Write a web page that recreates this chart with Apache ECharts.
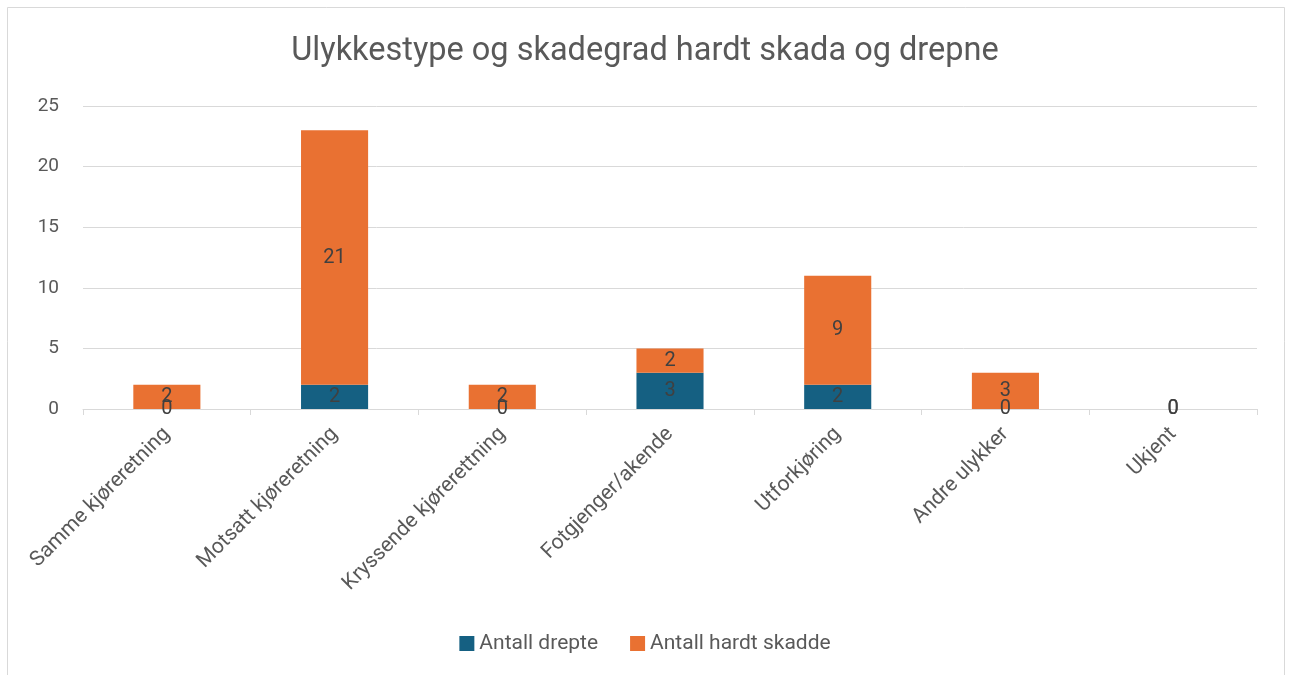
<!DOCTYPE html>
<html lang="no">
<head>
    <meta charset="UTF-8">
    <title>Ulykkestype og skadegrad</title>
    <script type="text/javascript" src="https://cdn.jsdelivr.net/npm/echarts@6/dist/echarts.min.js"></script>
    <style>
        body { margin: 0; background: #fff; }
    </style>
</head>
<body>
<div id="main" style="width: 1290px; height: 675px;"></div>
<script type="text/javascript">
    var categories = ['Samme kjøreretning', 'Motsatt kjøreretning', 'Kryssende kjørerettning',
        'Fotgjenger/akende', 'Utforkjøring', 'Andre ulykker', 'Ukjent'];
    var drepte = [0, 2, 0, 3, 2, 0, 0];
    var hardtSkadde = [2, 21, 2, 2, 9, 3, 0];
    var yTicks = [0, 5, 10, 15, 20, 25];

    var font = 'Roboto, "Open Sans", sans-serif';
    var labelStyle = {
        show: true,
        position: 'inside',
        color: '#404040',
        fontSize: 20,
        fontFamily: font
    };

    var myChart = echarts.init(document.getElementById('main'));
    var option = {
        backgroundColor: '#fff',
        title: {
            text: 'Ulykkestype og skadegrad hardt skada og drepne',
            left: 'center',
            top: 30,
            textStyle: {
                color: '#595959',
                fontSize: 32.5,
                fontWeight: 'normal',
                fontFamily: font
            }
        },
        graphic: [{
            type: 'rect',
            shape: { x: 7.5, y: 7.5, width: 1277, height: 700 },
            style: { fill: 'none', stroke: '#d9d9d9', lineWidth: 1 },
            silent: true
        }],
        legend: {
            bottom: 16,
            left: 'center',
            itemWidth: 15,
            itemHeight: 15,
            itemGap: 32,
            icon: 'rect',
            textStyle: { color: '#595959', fontSize: 21, fontFamily: font },
            data: ['Antall drepte', 'Antall hardt skadde']
        },
        grid: {
            left: 83,
            right: 33,
            top: 106,
            bottom: 266,
            containLabel: false
        },
        xAxis: {
            type: 'category',
            data: categories,
            axisLine: { lineStyle: { color: '#d9d9d9', width: 1 } },
            axisTick: { show: true, length: 6, lineStyle: { color: '#d9d9d9' } },
            axisLabel: {
                rotate: 45,
                interval: 0,
                margin: 22,
                color: '#595959',
                fontSize: 21,
                fontFamily: font
            }
        },
        yAxis: {
            type: 'value',
            min: yTicks[0],
            max: yTicks[yTicks.length - 1],
            interval: 5,
            axisLine: { show: false },
            axisTick: { show: false },
            splitLine: { lineStyle: { color: '#d9d9d9', width: 1 } },
            axisLabel: {
                color: '#595959',
                fontSize: 19,
                fontFamily: font,
                margin: 24
            }
        },
        series: [
            {
                name: 'Antall drepte',
                type: 'bar',
                stack: 'total',
                barWidth: '40%',
                data: drepte,
                itemStyle: { color: '#156082' },
                label: labelStyle
            },
            {
                name: 'Antall hardt skadde',
                type: 'bar',
                stack: 'total',
                barWidth: '40%',
                data: hardtSkadde,
                itemStyle: { color: '#E97132' },
                label: labelStyle
            }
        ]
    };
    myChart.setOption(option);
</script>
</body>
</html>
